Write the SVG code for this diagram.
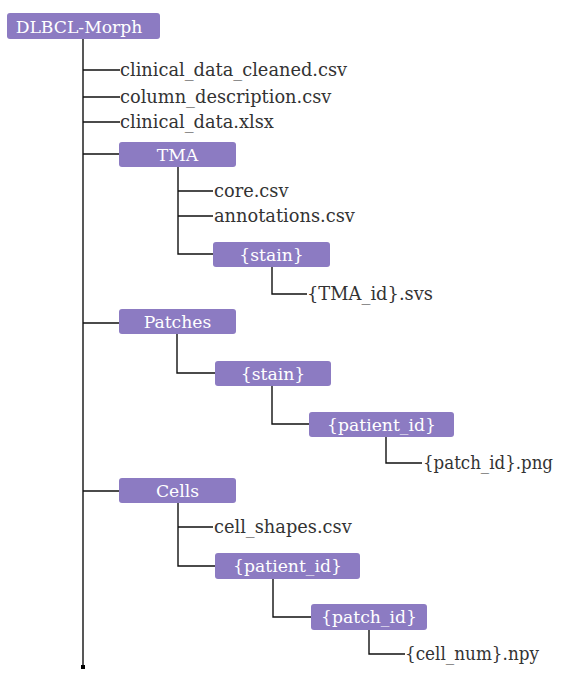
<svg xmlns="http://www.w3.org/2000/svg" width="563" height="677" viewBox="0 0 563 677">
<style>
.box{fill:#8c7bc2;}
.bt{fill:#ffffff;font-family:"DejaVu Serif","Liberation Serif",serif;font-size:17.2px;text-anchor:middle;}
.ft{fill:#333333;font-family:"DejaVu Serif","Liberation Serif",serif;font-size:17.8px;}
.ln{fill:none;stroke:#111111;stroke-width:1.4;}
</style>
<rect width="563" height="677" fill="#ffffff"/>
<g id="connectors">
<path class="ln" d="M83 39V667"/>
<rect x="81" y="665" width="4" height="4" fill="#000"/>
<path class="ln" d="M83 70H120M83 97H120M83 122H120M83 154H119M83 323H119M83 491H119"/>
<path class="ln" d="M178 167V254H213M178 191H213M178 216H213"/>
<path class="ln" d="M272 267V294H307"/>
<path class="ln" d="M177 334V373H215"/>
<path class="ln" d="M272 386V424H309"/>
<path class="ln" d="M386 437V463H422"/>
<path class="ln" d="M178 503V566H215M178 527H213"/>
<path class="ln" d="M273 579V617H311"/>
<path class="ln" d="M369 630V654H405"/>
</g>
<g id="n-root"><rect class="box" x="7" y="13" width="153" height="26" rx="3"/><text class="bt" x="79" y="32.5">DLBCL-Morph</text></g>
<g id="f-clinical-cleaned"><text class="ft" x="120" y="76">clinical_data_cleaned.csv</text></g>
<g id="f-column-desc"><text class="ft" x="120" y="103">column_description.csv</text></g>
<g id="f-clinical-xlsx"><text class="ft" x="120" y="128">clinical_data.xlsx</text></g>
<g id="n-tma"><rect class="box" x="119" y="142" width="117" height="25" rx="3"/><text class="bt" x="177.5" y="161">TMA</text></g>
<g id="f-core"><text class="ft" x="214" y="197">core.csv</text></g>
<g id="f-annotations"><text class="ft" x="214" y="222">annotations.csv</text></g>
<g id="n-tma-stain"><rect class="box" x="213" y="242" width="117" height="25" rx="3"/><text class="bt" x="271.5" y="261">{stain}</text></g>
<g id="f-tma-svs"><text class="ft" x="307" y="300" textLength="126" lengthAdjust="spacingAndGlyphs">{TMA_id}.svs</text></g>
<g id="n-patches"><rect class="box" x="119" y="309" width="117" height="25" rx="3"/><text class="bt" x="177.5" y="328">Patches</text></g>
<g id="n-patches-stain"><rect class="box" x="215" y="361" width="116" height="25" rx="3"/><text class="bt" x="273" y="380">{stain}</text></g>
<g id="n-patches-patient"><rect class="box" x="309" y="412" width="145" height="25" rx="3"/><text class="bt" x="381.5" y="431">{patient_id}</text></g>
<g id="f-patch-png"><text class="ft" x="423" y="469" textLength="130" lengthAdjust="spacingAndGlyphs">{patch_id}.png</text></g>
<g id="n-cells"><rect class="box" x="119" y="478" width="117" height="25" rx="3"/><text class="bt" x="177.5" y="497">Cells</text></g>
<g id="f-cell-shapes"><text class="ft" x="214" y="533">cell_shapes.csv</text></g>
<g id="n-cells-patient"><rect class="box" x="215" y="553" width="145" height="26" rx="3"/><text class="bt" x="287.5" y="572">{patient_id}</text></g>
<g id="n-cells-patch"><rect class="box" x="311" y="604" width="116" height="26" rx="3"/><text class="bt" x="369" y="623">{patch_id}</text></g>
<g id="f-cell-npy"><text class="ft" x="405" y="660" textLength="134" lengthAdjust="spacingAndGlyphs">{cell_num}.npy</text></g>
</svg>
